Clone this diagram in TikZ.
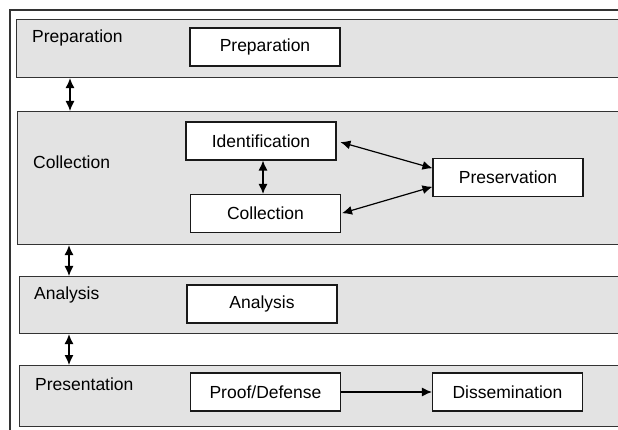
\documentclass[tikz,border=0pt]{standalone}
\usepackage{fontspec}
\setmainfont{Liberation Sans}
\usetikzlibrary{arrows.meta}

\begin{document}
\begin{tikzpicture}[x=1pt,y=-1pt,
    band/.style={draw=black!80, fill=black!11, line width=1.1pt, anchor=north west, inner sep=0pt, minimum width=640},
    stage/.style={draw=black!90, fill=white, line width=1.1pt, minimum width=150, minimum height=38, inner sep=0pt, font=\fontsize{17.5}{20}\selectfont},
    lbl/.style={anchor=west, inner sep=0pt, font=\fontsize{17.5}{20}\selectfont},
    link/.style={-{Latex[length=10,width=9]}, line width=1.2pt},
    dlink/.style={{Latex[length=10,width=9]}-{Latex[length=10,width=9]}, line width=1.2pt}]
    \useasboundingbox (0,0) rectangle (618,430);
    \clip (0,0) rectangle (618,430);
    \draw[line width=1.1pt, black!80] (10,440) -- (10,10) -- (630,10);

    % phases
    \node[band, minimum height=58] (bprep) at (16,19) {};
    \node[band, minimum height=133] (bcoll) at (17,111) {};
    \node[band, minimum height=57] (bana) at (19,276) {};
    \node[band, minimum height=61] (bpres) at (19,365) {};

    \node[lbl] (lprep) at (32,38) {Preparation};
    \node[lbl] (lcoll) at (33,162) {Collection};
    \node[lbl] (lana) at (34,295) {Analysis};
    \node[lbl] (lpres) at (35,384) {Presentation};

    % steps
    \node[stage] (prep) at (265,47) {Preparation};
    \node[stage] (ident) at (261,141) {Identification};
    \node[stage] (coll) at (265.5,213.5) {Collection};
    \node[stage] (pres) at (508,177.5) {Preservation};
    \node[stage] (ana) at (262,304) {Analysis};
    \node[stage] (proof) at (265.5,392) {Proof/Defense};
    \node[stage] (diss) at (507.5,392) {Dissemination};

    \draw[dlink] (bprep.south -| 70,0) -- (bcoll.north -| 70,0);
    \draw[dlink] (bcoll.south -| 69,0) -- (bana.north -| 69,0);
    \draw[dlink] (bana.south -| 69,0) -- (bpres.north -| 69,0);

    \draw[dlink] (ident.south -| 263,0) -- (coll.north -| 263,0);
    \draw[dlink, shorten <=4pt] (ident.east) -- (pres.173);
    \draw[dlink, shorten <=1pt] (coll.east) -- (pres.187);
    \draw[link] (proof) -- (diss);
\end{tikzpicture}
\end{document}
